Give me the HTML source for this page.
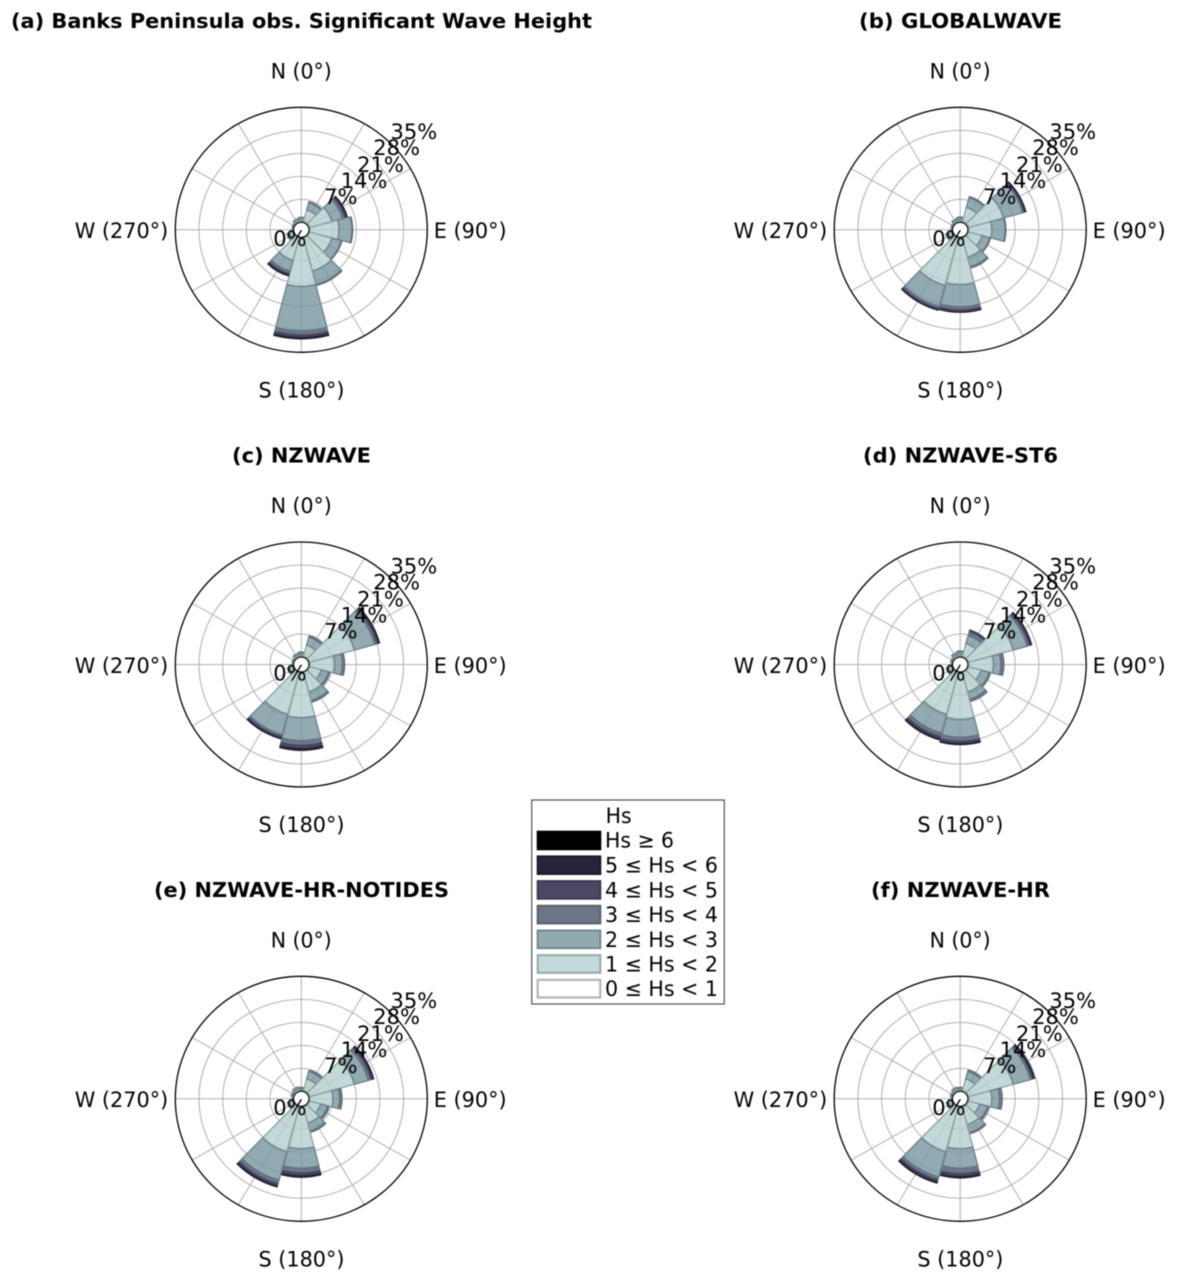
<!DOCTYPE html>
<html>
<head>
<meta charset="utf-8">
<style>
html,body{margin:0;padding:0;background:#fff;width:1177px;height:1282px;overflow:hidden}
svg{display:block;filter:blur(0.4px)}
text{font-family:"DejaVu Sans","Liberation Sans",sans-serif;font-size:21px;fill:#000}
.t{font-weight:bold;font-size:20.6px}
</style>
</head>
<body>
<svg id="s" xmlns="http://www.w3.org/2000/svg" width="1177" height="1282" viewBox="0 0 1177 1282">
<rect width="1177" height="1282" fill="#fff"/>
<defs>
<g id="lab">
<text x="-30.6" y="-151.4" textLength="61" lengthAdjust="spacingAndGlyphs">N (0°)</text>
<text x="-226.6" y="8.4" textLength="93.6" lengthAdjust="spacingAndGlyphs">W (270°)</text>
<text x="132.4" y="8.4" textLength="73" lengthAdjust="spacingAndGlyphs">E (90°)</text>
<text x="-42.8" y="167.6" textLength="86" lengthAdjust="spacingAndGlyphs">S (180°)</text>
<text x="89.2" y="-91">35%</text>
<text x="72" y="-75">28%</text>
<text x="55.8" y="-58">21%</text>
<text x="39.4" y="-42">14%</text>
<text x="22.8" y="-26">7%</text>
<text x="-28" y="16">0%</text>
</g>
</defs>

<g id="pa" transform="translate(301.3,229.8)"><g class="geo"></g><use href="#lab"/></g>
<g id="pb" transform="translate(960.2,229.8)"><g class="geo"></g><use href="#lab"/></g>
<g id="pc" transform="translate(301.3,664.5)"><g class="geo"></g><use href="#lab"/></g>
<g id="pd" transform="translate(960.2,664.5)"><g class="geo"></g><use href="#lab"/></g>
<g id="pe" transform="translate(301.3,1098.8)"><g class="geo"></g><use href="#lab"/></g>
<g id="pf" transform="translate(960.2,1098.8)"><g class="geo"></g><use href="#lab"/></g>

<text class="t" x="11" y="28" textLength="581" lengthAdjust="spacingAndGlyphs">(a) Banks Peninsula obs. Significant Wave Height</text>
<text class="t" x="859" y="28" textLength="203" lengthAdjust="spacingAndGlyphs">(b) GLOBALWAVE</text>
<text class="t" x="232" y="462.5" textLength="139" lengthAdjust="spacingAndGlyphs">(c) NZWAVE</text>
<text class="t" x="863" y="462.5" textLength="195" lengthAdjust="spacingAndGlyphs">(d) NZWAVE-ST6</text>
<text class="t" x="154" y="897" textLength="295" lengthAdjust="spacingAndGlyphs">(e) NZWAVE-HR-NOTIDES</text>
<text class="t" x="871" y="897" textLength="179" lengthAdjust="spacingAndGlyphs">(f) NZWAVE-HR</text>

<rect x="531.7" y="800" width="192.6" height="204" fill="#fff" stroke="#444" stroke-width="1.1"/>
<rect x="537.7" y="831.7" width="62.6" height="17.6" fill="#000" stroke="#000" stroke-width="2"/>
<rect x="537.7" y="856.4" width="62.6" height="17.6" fill="#25253a" stroke="#1a1a2a" stroke-width="2"/>
<rect x="537.7" y="881.1" width="62.6" height="17.6" fill="#4a4863" stroke="#3a3850" stroke-width="2"/>
<rect x="537.7" y="905.8" width="62.6" height="17.6" fill="#6b7688" stroke="#565f6e" stroke-width="2"/>
<rect x="537.7" y="930.5" width="62.6" height="17.6" fill="#91aab0" stroke="#71868b" stroke-width="2"/>
<rect x="537.7" y="955.2" width="62.6" height="17.6" fill="#c3d8d8" stroke="#94a8a8" stroke-width="2"/>
<rect x="537.7" y="979.9" width="62.6" height="17.6" fill="#fff" stroke="#b5b5b5" stroke-width="2.2"/>
<text x="605.6" y="823" textLength="26" lengthAdjust="spacingAndGlyphs">Hs</text>
<text x="605" y="847.7" textLength="69" lengthAdjust="spacingAndGlyphs">Hs ≥ 6</text>
<text x="605" y="872.7" textLength="113" lengthAdjust="spacingAndGlyphs">5 ≤ Hs &lt; 6</text>
<text x="605" y="897.4" textLength="113" lengthAdjust="spacingAndGlyphs">4 ≤ Hs &lt; 5</text>
<text x="605" y="922.1" textLength="113" lengthAdjust="spacingAndGlyphs">3 ≤ Hs &lt; 4</text>
<text x="605" y="946.8" textLength="113" lengthAdjust="spacingAndGlyphs">2 ≤ Hs &lt; 3</text>
<text x="605" y="971.5" textLength="113" lengthAdjust="spacingAndGlyphs">1 ≤ Hs &lt; 2</text>
<text x="605" y="996.2" textLength="113" lengthAdjust="spacingAndGlyphs">0 ≤ Hs &lt; 1</text>
</svg>
<script>
(function(){
var NS="http://www.w3.org/2000/svg",K=1/3,Y=0.972;
var D={
a:[[30,37,38],[62,84,88],[95,128,136,141,144],[113,152,155],[95,124,127],[128,170,174],[170,303,315,323,328],[95,128,136,141,144],[36,45],[25,27],[26,29],[30,35]],
b:[[30,37,39],[70,100,104],[135,194,199,203,205],[95,135,138],[68,92,95],[85,115,120],[165,231,240,246,248],[173,238,244,249,251],[36,45],[25,27],[26,29],[30,35]],
c:[[30,36,38],[60,85,90],[165,228,235,241,244],[100,123,131],[62,85,90],[85,112,118],[160,228,242,252,258],[155,218,224,229,232],[36,43],[25,27],[26,29],[30,35]],
d:[[30,38,41],[65,90,102,108],[165,208,215,221,223],[100,122,132],[65,90,95],[85,108,116],[165,218,230,237,241],[155,213,224,231,235],[36,43],[25,27],[27,30],[31,37]],
e:[[28,33,35],[62,85,90],[165,208,217,223,226],[95,115,123],[60,82,88],[75,100,105],[150,208,222,231,236],[165,253,264,271,275],[36,43],[25,28],[28,32],[31,37]],
f:[[28,33,35],[62,85,90],[165,218,224,229,232],[95,118,127],[60,85,90],[80,105,110],[150,208,224,233,238],[165,243,252,259,263],[36,43],[25,28],[27,31],[30,36]]
};
var C=[
{f:"#b4cece",o:.8,s:"#8fa3a3"},
{f:"#7796a0",o:.8,s:"#6f858b"},
{f:"#6b7688",o:1,s:"#5f6a7a"},
{f:"#4a4863",o:1,s:"#3f3e58"},
{f:"#25253a",o:1,s:"#1f1f30"},
{f:"#000000",o:1,s:"#000"}
];
function el(n,a,p){var e=document.createElementNS(NS,n);for(var k in a)e.setAttribute(k,a[k]);p.appendChild(e);return e}
function pt(r,t){var a=t*Math.PI/180;return (r*K*Math.sin(a)).toFixed(2)+" "+(-r*K*Math.cos(a)).toFixed(2)}
function wedge(r1,r2,a1,a2){
var x2=(r2*K).toFixed(2),x1=(r1*K).toFixed(2);
return "M"+pt(r1,a1)+"L"+pt(r2,a1)+"A"+x2+" "+x2+" 0 0 1 "+pt(r2,a2)+"L"+pt(r1,a2)+"A"+x1+" "+x1+" 0 0 0 "+pt(r1,a1)+"Z";
}
for(var id in D){
var g=document.querySelector("#p"+id+" .geo");
var i,j;
el("ellipse",{cx:0,cy:0,rx:126,ry:122.5,fill:"#fff",stroke:"none"},g);
[94,165,236,307].forEach(function(r){el("ellipse",{cx:0,cy:0,rx:r*K,ry:r*K*Y,fill:"none",stroke:"#b0b0b0","stroke-width":1},g)});
for(i=0;i<12;i++){
var a=i*30*Math.PI/180;
el("line",{x1:0,y1:0,x2:(126*Math.sin(a)).toFixed(2),y2:(-122.5*Math.cos(a)).toFixed(2),stroke:"#b0b0b0","stroke-width":1},g);
}
for(i=0;i<12;i++){
var b=D[id][i],c=i*30,a1=c-14.7,a2=c+14.7,prev=23;
el("path",{d:wedge(23,26,a1,a2),fill:"#fff",stroke:"#bbb","stroke-width":.8},g);
prev=26;
for(j=0;j<b.length;j++){
el("path",{d:wedge(prev,b[j],a1,a2),fill:C[j].f,"fill-opacity":C[j].o,stroke:C[j].s,"stroke-width":j<2?1.4:.8},g);
prev=b[j];
}
}
el("ellipse",{cx:0,cy:0,rx:126,ry:122.5,fill:"none",stroke:"#000","stroke-width":1.3},g);
el("ellipse",{cx:0,cy:0,rx:23*K,ry:23*K*Y,fill:"#fff",stroke:"#000","stroke-width":1.1},g);
}
})();
</script>
</body>
</html>
